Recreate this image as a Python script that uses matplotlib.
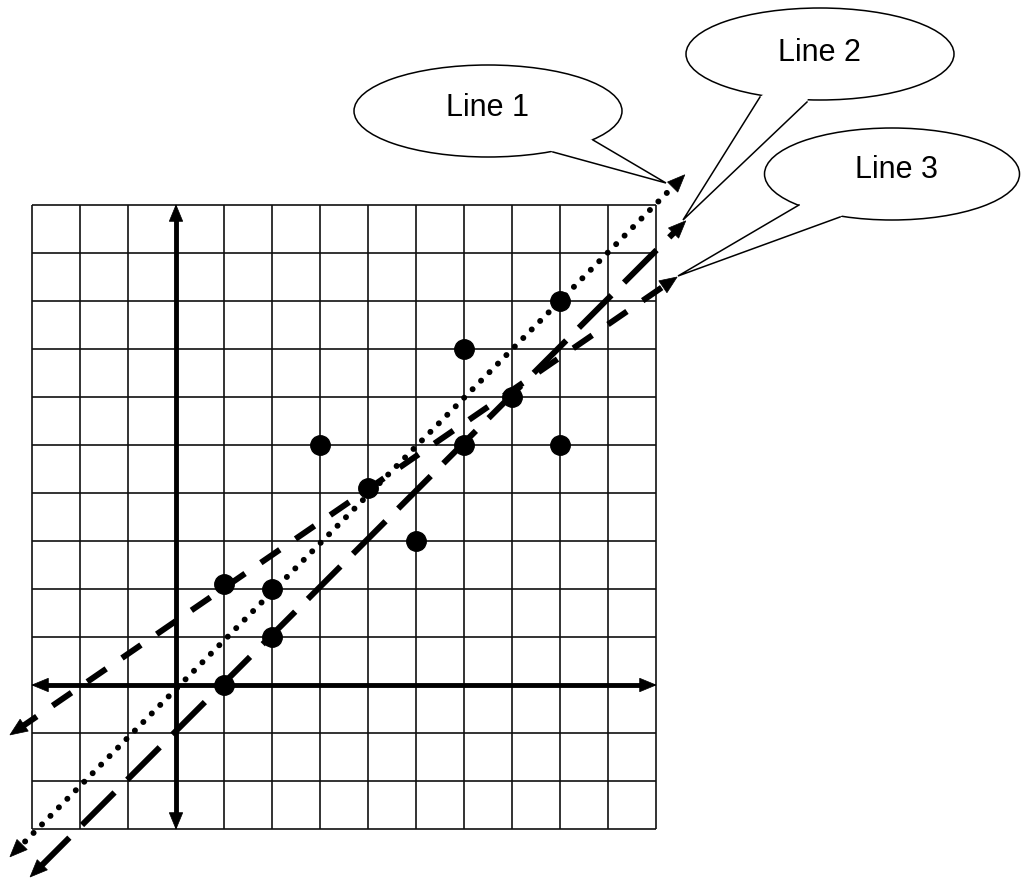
import numpy as np
import matplotlib
matplotlib.use("Agg")
import matplotlib.pyplot as plt
from matplotlib.patches import Ellipse, Polygon

# ---------------- data ----------------
pts_x = [1, 2, 2, 1, 3, 4, 5, 6, 6, 7, 8, 8]
pts_y = [0, 1, 2, 2.1, 5, 4.1, 3, 5, 7, 6, 8, 5]

grid_min, grid_max = -3, 10

line1_x = [-3.46, 10.6]    # dotted
line1_y = [-3.58, 10.63]
line2_x = [-3.04, 10.62]   # long dashes
line2_y = [-4.0, 9.67]
line3_x = [-3.46, 10.44]   # medium dashes
line3_y = [-1.04, 8.5]

labels = ["Line 1", "Line 2", "Line 3"]

# ---------------- layout ----------------
W, H, DPI = 1021, 881, 100
PX = 48.0                      # pixels per unit
GX0, GY0 = 32, 829             # pixel position of (-3,-3)

fig = plt.figure(figsize=(W / DPI, H / DPI), dpi=DPI)
ax = fig.add_axes([0, 0, 1, 1])
ax.set_xlim(grid_min - GX0 / PX, grid_min + (W - GX0) / PX)
ax.set_ylim(grid_min - (H - GY0) / PX, grid_min + GY0 / PX)
ax.axis("off")

ticks = np.arange(grid_min, grid_max + 1)
ax.vlines(ticks, grid_min, grid_max, colors="#111111", lw=1.2, zorder=1)
ax.hlines(ticks, grid_min, grid_max, colors="#111111", lw=1.2, zorder=1)


def head(x_tip, y_tip, x_from, y_from, length=0.34, half=0.14, z=6):
    d = np.array([x_tip - x_from, y_tip - y_from], float)
    d /= np.hypot(*d)
    n = np.array([-d[1], d[0]])
    tip = np.array([x_tip, y_tip])
    base = tip - d * length
    poly = Polygon([tip, base + n * half, base - n * half], closed=True,
                   facecolor="black", edgecolor="black", lw=0.5, zorder=z)
    ax.add_patch(poly)


def shorten(xs, ys, amt=0.2):
    p0 = np.array([xs[0], ys[0]], float)
    p1 = np.array([xs[1], ys[1]], float)
    d = (p1 - p0) / np.hypot(*(p1 - p0))
    a = p0 + d * amt
    b = p1 - d * amt
    return [a[0], b[0]], [a[1], b[1]]


# axes (thick, double arrows)
ax.plot([grid_min + 0.2, grid_max - 0.2], [0, 0], color="black", lw=3.5,
        zorder=4, solid_capstyle="butt")
ax.plot([0, 0], [grid_min + 0.2, grid_max - 0.2], color="black", lw=3.5,
        zorder=4, solid_capstyle="butt")
for tx, ty in [(grid_max, 0), (grid_min, 0), (0, grid_max), (0, grid_min)]:
    head(tx, ty, 0, 0, length=0.34, half=0.14)

LW = 4.3
# line 1: dotted
lx, ly = shorten(line1_x, line1_y, 0.2)
ax.plot(lx, ly, color="black", lw=LW, dashes=(0.01, 2.0),
        dash_capstyle="round", zorder=5)
# line 2: long dashes
lx, ly = shorten(line2_x, line2_y, 0.2)
ax.plot(lx, ly, color="black", lw=LW, dashes=(7.7, 3.0),
        dash_capstyle="butt", zorder=5)
# line 3: medium dashes
lx, ly = shorten(line3_x, line3_y, 0.2)
ax.plot(lx, ly, color="black", lw=LW, dashes=(3.85, 3.2),
        dash_capstyle="butt", zorder=5)

for xs, ys in [(line1_x, line1_y), (line2_x, line2_y), (line3_x, line3_y)]:
    head(xs[1], ys[1], xs[0], ys[0], length=0.36, half=0.15)
    head(xs[0], ys[0], xs[1], ys[1], length=0.36, half=0.15)

ax.plot(pts_x, pts_y, "o", color="black", ms=14, zorder=7)

# ---------------- callouts (pixel overlay) ----------------
ov = fig.add_axes([0, 0, 1, 1])
ov.set_xlim(0, W)
ov.set_ylim(H, 0)
ov.axis("off")
ov.patch.set_alpha(0)

callouts = [
    # center, width, height, base1, tip, base2, text pos (baseline)
    ((488, 111), 268, 92, (593, 140), (666, 183), (553, 152), (487, 116)),
    ((820, 54), 268, 92, (760, 97), (683, 220), (807, 102), (819, 61)),
    ((892, 174), 255, 92, (799, 205), (678, 276), (840, 217), (896, 178)),
]
for lab, (c, w, h, b1, tip, b2, tp) in zip(labels, callouts):
    ov.add_patch(Ellipse(c, w, h, facecolor="white", edgecolor="black",
                         lw=1.1, zorder=2))
    cc = np.array(c, float)
    b1a, b2a = np.array(b1, float), np.array(b2, float)
    i1 = b1a + (cc - b1a) * 0.08
    i2 = b2a + (cc - b2a) * 0.08
    ov.add_patch(Polygon([i1, b1a, tip, b2a, i2], closed=True,
                         facecolor="white", edgecolor="none", zorder=3))
    ov.plot([b1[0], tip[0], b2[0]], [b1[1], tip[1], b2[1]], color="black",
            lw=1.1, zorder=4, solid_joinstyle="miter")
    ov.text(tp[0], tp[1], lab, ha="center", va="baseline", fontsize=22,
            family=["Liberation Sans", "DejaVu Sans"], zorder=5)

fig.savefig("out.png", dpi=DPI)
